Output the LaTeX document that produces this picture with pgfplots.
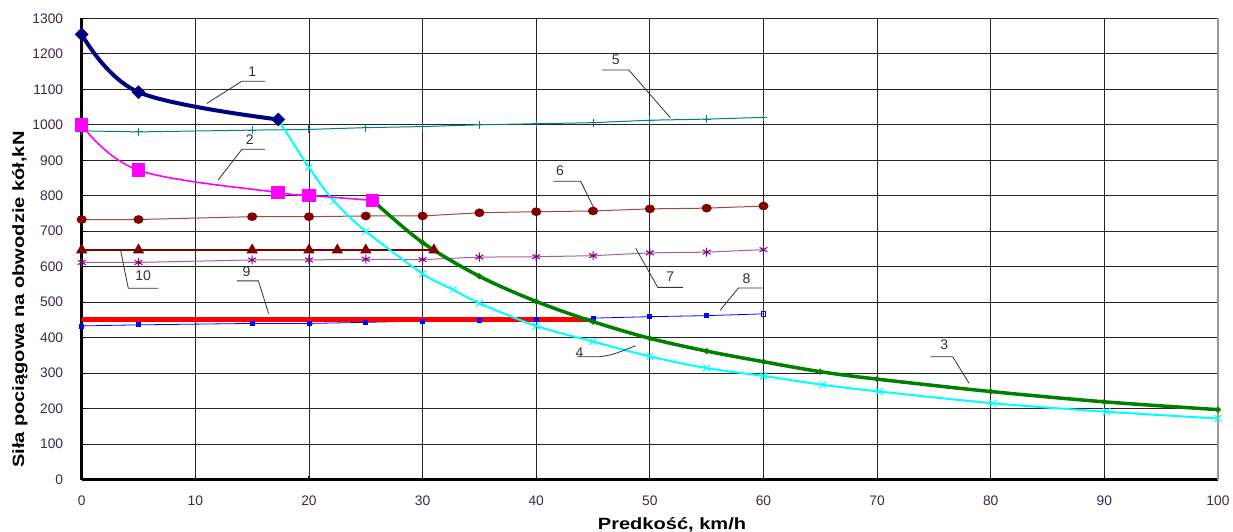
\documentclass[border=0pt]{standalone}
\usepackage{pgfplots}
\pgfplotsset{compat=1.18}
\usepackage{fontspec}
\setmainfont{Liberation Sans}
\newfontfamily\lblfont{Liberation Sans}[FakeStretch=1.23]
\definecolor{tickc}{RGB}{60,40,75}
\definecolor{annc}{RGB}{50,50,50}
\definecolor{cNavy}{RGB}{0,0,128}
\definecolor{cMag}{RGB}{255,0,255}
\definecolor{cGreen}{RGB}{0,128,0}
\definecolor{cCyan}{RGB}{0,255,255}
\definecolor{cTeal}{RGB}{0,128,128}
\definecolor{cDRed}{RGB}{128,0,0}
\definecolor{cDRedL}{RGB}{160,70,70}
\definecolor{cPurp}{RGB}{128,0,128}
\definecolor{cPurpL}{RGB}{170,90,170}
\definecolor{cBlue}{RGB}{0,0,255}
\definecolor{cRed}{RGB}{255,0,0}
\begin{document}
\begin{tikzpicture}
\useasboundingbox (-81.7pt,-52.5pt) rectangle (1151.3pt,479.5pt);
\begin{axis}[
  at={(0pt,0pt)}, anchor=south west,
  scale only axis, width=1136.3pt, height=461.1pt,
  xmin=0, xmax=100, ymin=0, ymax=1300,
  xtick={0,10,...,100}, ytick={0,100,...,1300},
  axis x line*=bottom, axis y line*=left,
  axis line style={black, line width=2.6pt},
  grid=major, major grid style={black!85, line width=0.9pt},
  tick align=inside, major tick length=4pt,
  tick style={black, line width=1pt},
  /pgf/number format/assume math mode=true,
  /pgf/number format/1000 sep={},
  ticklabel style={font=\fontsize{13.8}{15}\selectfont, text=tickc},
  xticklabel style={yshift=-13pt},
  yticklabel style={xshift=-15pt},
  xlabel={\lblfont\bfseries Predkość, km/h},
  ylabel={\lblfont\bfseries Siła pociągowa na obwodzie kół,kN},
  label style={font=\fontsize{16.3}{18}\selectfont},
  xlabel style={at={(axis description cs:0.5195,-0.0987)}, anchor=center},
  ylabel style={at={(axis description cs:-0.0543,0.39)}, anchor=center, rotate=0},
  clip=false,
]
% 5 (teal, +)
\addplot[cTeal, line width=1pt, mark=+, mark size=4pt, mark options={solid, line width=1pt}]
  coordinates {(0,983)(5,980)(15,985)(20,987)(25,992)(30,995)(35,1000)(40,1003)(45,1006)(50,1013)(55,1016)(60,1021)};
% 6 (dark red, circles)
\addplot[cDRedL, line width=1pt, mark=*, mark size=4.5pt, mark options={solid, fill=cDRed, draw=cDRed, yscale=0.85}]
  coordinates {(0,733)(5,733)(15,741)(20,741)(25,743)(30,743)(35,752)(40,755)(45,757)(50,763)(55,765)(60,771)};
% 7 (purple, asterisks)
\addplot[cPurpL, line width=1pt, mark=asterisk, mark size=4.5pt, mark options={solid, draw=cPurp, line width=1pt}]
  coordinates {(0,612)(5,612)(15,619)(20,619)(25,621)(30,620)(35,627)(40,628)(45,631)(50,639)(55,641)(60,648)};
% 10 (dark red, triangles)
\addplot[cDRed, line width=2pt, mark=triangle*, mark size=4.6pt, mark options={solid, fill=cDRed}]
  coordinates {(0,647)(5,647)(15,647)(20,647)(22.5,647)(25,647)(31,647)};
% 8 (blue, small squares)
\addplot[cBlue, line width=0.8pt, mark=square*, mark size=2pt, mark options={solid, fill=cBlue}]
  coordinates {(0,433)(5,436)(15,440)(20,440)(25,443)(30,447)(35,449)(40,452)(45,455)(50,459)(55,462)};
\addplot[cBlue, line width=0.8pt, mark=square, mark size=2.2pt, mark options={solid, fill=white}]
  coordinates {(55,462)(60,467)};
% 9 (red)
\addplot[cRed, line width=4.2pt] coordinates {(0,451)(44.5,451)};
% 4 (cyan, x)
\addplot[cCyan, line width=2pt, smooth, tension=0.55, mark=x, mark size=5pt, mark options={solid, line width=1pt}]
  coordinates {(17.3,1015)(20,880)(22.2,785)(25,700)(30,580)(32.7,535)(35,497)(40,433)(45,389)(50,347)(55,314)(60,292)(65.2,267)(70.2,248)(80.2,215)(90.2,191)(100,172)};
% 3 (green)
\addplot[cGreen, line width=3.5pt, smooth, tension=0.55, mark=square*, mark size=2pt, mark options={solid, rotate=45, fill=cGreen, line width=0.5pt}]
  coordinates {(25.6,787)(30,668)(35,573)(40,502)(45,445)(50,398)(55,362)(60,332)(65,304)(70,283)(80,248)(90,219)(100,197)};
% 2 (magenta squares)
\addplot[cMag, line width=1.6pt, smooth, tension=0.6, mark=square*, mark size=6pt, mark options={solid, fill=cMag}]
  coordinates {(0,1000)(5,872)(17.3,809)(20,801)(25.6,787)};
% 1 (navy diamonds)
\addplot[cNavy, line width=4pt, smooth, tension=0.6, mark=square*, mark size=4.6pt, mark options={solid, rotate=45, fill=cNavy, line width=0.5pt}]
  coordinates {(0,1255)(5,1092)(17.3,1015)};
% right border
\draw[black!40, line width=1.3pt] (axis cs:100,0) -- (axis cs:100,1300);
% annotations
\tikzset{ann/.style={annc, line width=0.8pt}, annt/.style={text=annc, font=\fontsize{14}{16}\selectfont, inner sep=0pt}}
\draw[ann] (axis cs:11.0,1060) -- (axis cs:14.1,1123) -- (axis cs:16.15,1123);
\node[annt] at (axis cs:15.0,1150) {1};
\draw[ann] (axis cs:12.0,844) -- (axis cs:14.1,931) -- (axis cs:16.15,931);
\node[annt] at (axis cs:14.8,959) {2};
\draw[ann] (axis cs:74.7,346) -- (axis cs:76.65,346) -- (axis cs:78.1,271);
\node[annt] at (axis cs:75.9,379) {3};
\draw[ann] (axis cs:43.6,346) -- (axis cs:45.5,346) to[out=5,in=200] (axis cs:48.75,377);
\node[annt] at (axis cs:43.8,358) {4};
\draw[ann] (axis cs:45.8,1154.5) -- (axis cs:48.15,1154.5) -- (axis cs:51.8,1020);
\node[annt] at (axis cs:47.0,1183) {5};
\draw[ann] (axis cs:41.5,841) -- (axis cs:43.9,841) -- (axis cs:45.1,764);
\node[annt] at (axis cs:42.1,872) {6};
\draw[ann] (axis cs:48.75,652) -- (axis cs:50.7,541.6) -- (axis cs:52.9,541.6);
\node[annt] at (axis cs:51.8,571) {7};
\draw[ann] (axis cs:56.2,477.6) -- (axis cs:57.8,540) -- (axis cs:59.9,540);
\node[annt] at (axis cs:58.5,567) {8};
\draw[ann] (axis cs:13.65,560) -- (axis cs:15.55,560) -- (axis cs:16.45,468);
\node[annt] at (axis cs:14.5,587) {9};
\draw[ann] (axis cs:3.4,650) -- (axis cs:4.1,539) -- (axis cs:6.75,539);
\node[annt] at (axis cs:5.4,573.5) {10};
\end{axis}
\end{tikzpicture}
\end{document}
